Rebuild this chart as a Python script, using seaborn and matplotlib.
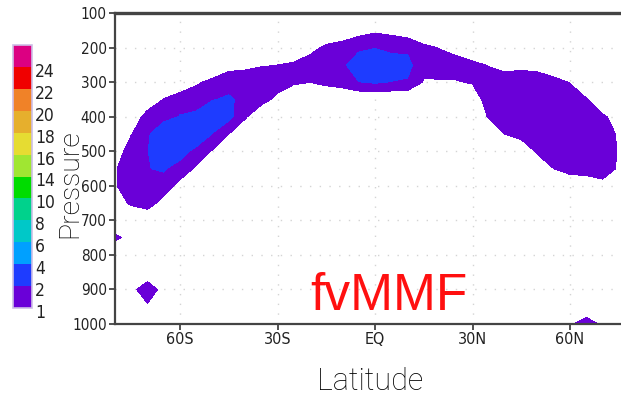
#!/usr/bin/env python3
"""
Zonal-mean cross section (latitude vs pressure), fvMMF run.
Shaded with GrADS-style rainbow levels, colour key on the left.
"""
import numpy as np
import matplotlib
matplotlib.use('Agg')
import matplotlib.pyplot as plt
import matplotlib.transforms as mtransforms
import seaborn as sns

# grid
lats = [-80, -75, -70, -65, -60, -55, -50, -45, -40, -35, -30, -25, -20, -15, -10, -5,
        0, 5, 10, 15, 20, 25, 30, 35, 40, 45, 50, 55, 60, 65, 70, 75, 80]
pressure = [100, 150, 200, 250, 300, 350, 400, 450, 500, 550, 600, 650, 700,
            750, 800, 850, 900, 950, 1000]

# one list per latitude, values top (100 hPa) to bottom (1000 hPa)
mmf_by_lat = [
    [0, 0, 0, 0, 0, 0, 0, 0, 0.3, 0.9, 0.9, 0.5, 0.6, 1.1, 0.5, 0, 0, 0, 0],        # -80
    [0, 0, 0, 0, 0, 0, 0, 0.95, 1.6, 1.7, 1.6, 1.15, 0, 0.85, 0, 0, 0.6, 0, 0],     # -75
    [0, 0, 0, 0, 0, 0, 1.6, 1.8, 1.95, 1.97, 1.7, 1.55, 0, 0, 0, 0, 1.8, 0.8, 0],   # -70
    [0, 0, 0, 0, 0, 1.05, 1.6, 3.0, 3.0, 2.1, 1.6, 0.5, 0, 0, 0, 0, 0.5, 0, 0],     # -65
    [0, 0, 0, 0, 0.15, 1.6, 2.05, 3.0, 2.4, 1.6, 0.65, 0, 0, 0, 0, 0, 0, 0, 0],     # -60
    [0, 0, 0, 0, 0.85, 1.6, 2.2, 2.8, 1.7, 0.85, 0, 0, 0, 0, 0, 0, 0, 0, 0],        # -55
    [0, 0, 0, 0, 1.3, 1.95, 2.8, 1.95, 0.9, 0, 0, 0, 0, 0, 0, 0, 0, 0, 0],          # -50
    [0, 0, 0, 0.65, 1.6, 2.15, 2.3, 1.0, 0, 0, 0, 0, 0, 0, 0, 0, 0, 0, 0],          # -45
    [0, 0, 0, 0.75, 1.6, 1.7, 1.15, 0, 0, 0, 0, 0, 0, 0, 0, 0, 0, 0, 0],            # -40
    [0, 0, 0, 0.93, 1.6, 1.45, 0, 0, 0, 0, 0, 0, 0, 0, 0, 0, 0, 0, 0],              # -35
    [0, 0, 0, 1.0, 1.6, 0.65, 0, 0, 0, 0, 0, 0, 0, 0, 0, 0, 0, 0, 0],               # -30
    [0, 0, 0, 1.2, 1.15, 0, 0, 0, 0, 0, 0, 0, 0, 0, 0, 0, 0, 0, 0],                 # -25
    [0, 0, 0.6, 1.6, 1.0, 0, 0, 0, 0, 0, 0, 0, 0, 0, 0, 0, 0, 0, 0],                # -20
    [0, 0, 1.25, 1.7, 1.25, 0, 0, 0, 0, 0, 0, 0, 0, 0, 0, 0, 0, 0, 0],              # -15
    [0, 0, 1.6, 1.6, 1.45, 0, 0, 0, 0, 0, 0, 0, 0, 0, 0, 0, 0, 0, 0],               # -10
    [0, 0.7, 1.6, 3.2, 1.95, 0.05, 0, 0, 0, 0, 0, 0, 0, 0, 0, 0, 0, 0, 0],          # -5
    [0, 0.83, 1.95, 3.3, 2.1, 0, 0, 0, 0, 0, 0, 0, 0, 0, 0, 0, 0, 0, 0],            # EQ
    [0, 0.77, 1.6, 2.8, 1.95, 0.05, 0, 0, 0, 0, 0, 0, 0, 0, 0, 0, 0, 0, 0],         # 5
    [0, 0.4, 1.8, 2.3, 1.9, 0, 0, 0, 0, 0, 0, 0, 0, 0, 0, 0, 0, 0, 0],              # 10
    [0, 0, 1.25, 1.3, 0.9, 0, 0, 0, 0, 0, 0, 0, 0, 0, 0, 0, 0, 0, 0],               # 15
    [0, 0, 0.95, 1.5, 0.9, 0, 0, 0, 0, 0, 0, 0, 0, 0, 0, 0, 0, 0, 0],               # 20
    [0, 0, 0.5, 1.6, 0.9, 0, 0, 0, 0, 0, 0, 0, 0, 0, 0, 0, 0, 0, 0],                # 25
    [0, 0, 0, 1.3, 1.1, 0.1, 0, 0, 0, 0, 0, 0, 0, 0, 0, 0, 0, 0, 0],                # 30
    [0, 0, 0, 0.93, 1.6, 1.7, 1.1, 0, 0, 0, 0, 0, 0, 0, 0, 0, 0, 0, 0],             # 35
    [0, 0, 0, 0.6, 1.6, 1.8, 1.8, 1.0, 0, 0, 0, 0, 0, 0, 0, 0, 0, 0, 0],            # 40
    [0, 0, 0, 0.74, 1.6, 1.8, 1.8, 1.45, 0, 0, 0, 0, 0, 0, 0, 0, 0, 0, 0],          # 45
    [0, 0, 0, 0.6, 1.6, 1.8, 1.8, 1.7, 1.2, 0, 0, 0, 0, 0, 0, 0, 0, 0, 0],          # 50
    [0, 0, 0, 0, 1.45, 1.8, 1.8, 1.8, 1.6, 1.0, 0, 0, 0, 0, 0, 0, 0, 0, 0],         # 55
    [0, 0, 0, 0, 0.95, 1.6, 1.8, 1.8, 1.7, 1.5, 0, 0, 0, 0, 0, 0, 0, 0, 0.8],       # 60
    [0, 0, 0, 0, 0, 1.1, 1.6, 1.8, 1.7, 1.6, 0.1, 0, 0, 0, 0, 0, 0, 0, 1.6],        # 65
    [0, 0, 0, 0, 0, 0, 1.2, 1.6, 1.7, 1.6, 0.6, 0, 0, 0, 0, 0, 0, 0, 0.8],          # 70
    [0, 0, 0, 0, 0, 0, 0.5, 0.85, 0.9, 0.85, 0.4, 0, 0, 0, 0, 0, 0, 0, 0],          # 75
    [0, 0, 0, 0, 0, 0, 0, 0, 0, 0, 0, 0, 0, 0, 0, 0, 0, 0, 0],                      # 80
]

clevs = [1, 2, 4, 6, 8, 10, 14, 16, 18, 20, 22, 24, 26]
shade_colors = ['#6a00d8', '#1e3cff', '#00a0ff', '#00c8c8', '#00d28c', '#00dc00',
                '#a0e632', '#e6dc32', '#e6af2d', '#f08228', '#f00000', '#dc0082']
lat_ticks = [-60, -30, 0, 30, 60]
lat_labels = ['60S', '30S', 'EQ', '30N', '60N']
p_ticks = [100, 200, 300, 400, 500, 600, 700, 800, 900, 1000]

sns.set_theme(style='white')
plt.rcParams['font.family'] = ['DejaVu Sans']
plt.rcParams['font.stretch'] = 'condensed'

W, H = 621, 397
fig = plt.figure(figsize=(W / 100, H / 100), dpi=100)
ax = fig.add_axes([115 / W, 73 / H, 520 / W, 310.7 / H])

field = np.array(mmf_by_lat).T
palette = sns.color_palette(shade_colors)
cf = ax.contourf(lats, pressure, field, levels=clevs, colors=palette)

ax.set_xlim(-80, 80)
ax.set_ylim(1000, 100)
ax.set_xticks(lat_ticks)
ax.set_xticklabels(lat_labels, fontsize=11.5, fontstretch='condensed')
ax.set_yticks(p_ticks)
ax.set_yticklabels([str(p) for p in p_ticks], fontsize=11, fontstretch='condensed')
ax.tick_params(axis='both', direction='out', length=4, width=1.2,
               color='#333333', labelcolor='#222222', pad=2,
               left=True, bottom=True)
ax.grid(True, color='#d4d4d4', linestyle=(0, (1, 6)), linewidth=1)
ax.set_axisbelow(True)
for side in ['left', 'bottom', 'top']:
    ax.spines[side].set_color('#444444')
    ax.spines[side].set_linewidth(1.6)
ax.spines['top'].set_linewidth(2.4)
ax.spines['right'].set_visible(False)

# axis titles in a thin face
title_font = ['Roboto', 'DejaVu Sans']
fig.text(370 / W, 1 - 390 / H, 'Latitude', ha='center', va='baseline',
         fontsize=22, family=title_font, fontweight='light', color='#000000')
fig.text(83 / W, 1 - 184 / H, 'Pressure', ha='right', va='center', rotation=90,
         fontsize=20.5, family=title_font, fontweight='light', color='#000000')

ax.text(0.375, 0.045, 'fvMMF', transform=ax.transAxes, ha='left', va='baseline',
        fontsize=37, family=['Liberation Sans', 'DejaVu Sans'], color='#ff1010')

# colour key on the left, labels sit a touch under each box edge
cax = fig.add_axes([13 / W, 1 - 308 / H, 19 / W, 263 / H])
cb = fig.colorbar(cf, cax=cax, ticks=clevs[:-1], spacing='uniform')
cb.ax.tick_params(length=0, labelsize=12.5, pad=2, labelcolor='#222222')
nudge = mtransforms.ScaledTranslation(0, -3 / 100, fig.dpi_scale_trans)
for t in cb.ax.get_yticklabels():
    t.set_fontstretch('condensed')
    t.set_transform(t.get_transform() + nudge)
cb.outline.set_edgecolor('#cdbfe6')
cb.outline.set_linewidth(1.2)

fig.savefig('out.png', dpi=100)
